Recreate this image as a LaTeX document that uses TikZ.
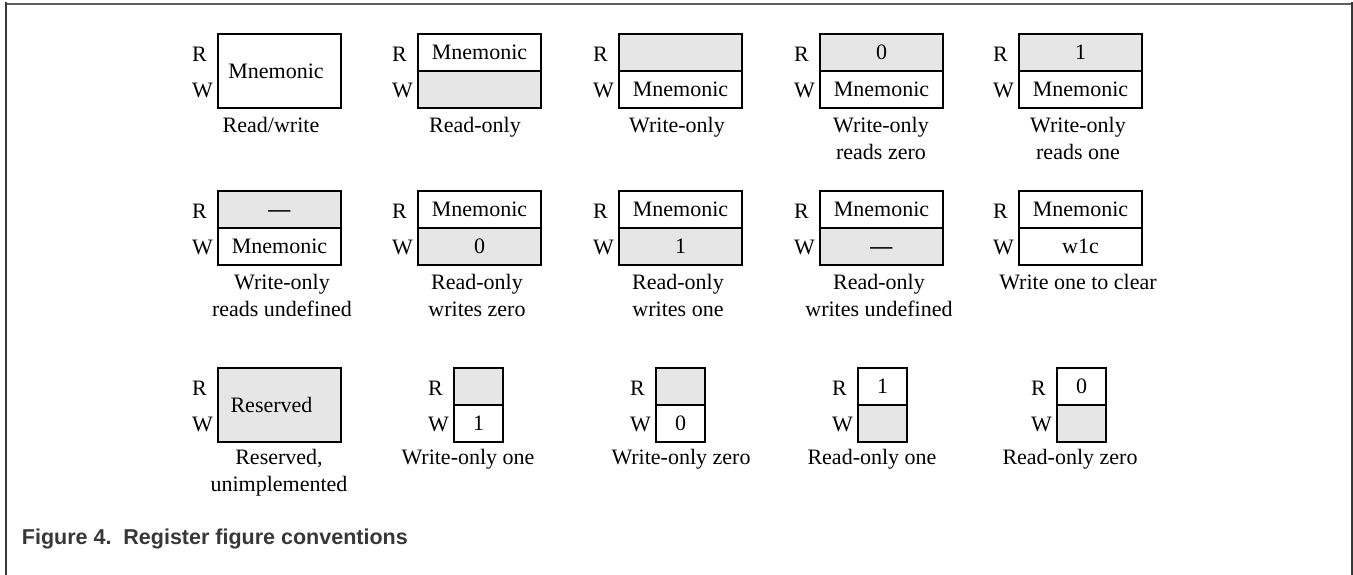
\documentclass[tikz,border=0pt]{standalone}
\usepackage{fontspec}
\setmainfont{Liberation Serif}
\newfontfamily\capfont{Liberation Sans}
\definecolor{shade}{RGB}{230,230,230}
\definecolor{framedark}{RGB}{55,55,55}
\definecolor{frametop}{RGB}{95,95,95}
\definecolor{captext}{RGB}{55,55,55}

\tikzset{
  txt/.style={font=\fontsize{22}{27}\selectfont},
  cell/.style={txt, rectangle, draw=black, line width=1.9pt, inner sep=0pt,
    outer sep=0pt, minimum height=37pt, text height=14.6pt, text depth=0pt},
  wholecell/.style={cell, minimum width=123pt, minimum height=74pt},
  rwlabel/.style={txt, anchor=west, inner sep=0pt},
  caption/.style={txt, anchor=north, inner sep=0pt, align=center},
}

% an undefined field value is printed as a heavy dash
\newcommand\undefdash{\textbf{---}}

% two-cell register field: name, left x, top y, width, upper fill, upper text, lower fill, lower text
\newcommand\regpair[8]{%
  \node[cell, fill=#5, minimum width=#4pt, anchor=north west] (#1u) at (#2,#3) {#6};
  \node[cell, fill=#7, minimum width=#4pt, anchor=north west] (#1l) at (#1u.south west) {#8};
  \node[rwlabel] (#1R) at ([xshift=-26pt,yshift=-20pt]#1u.north west) {R};
  \node[rwlabel] (#1W) at ([xshift=-26pt,yshift=-56pt]#1u.north west) {W};
}
% single-cell register field: name, left x, top y, fill, text, leftward text offset
\newcommand\regwhole[6]{%
  \node[wholecell, fill=#4, anchor=north west] (#1) at (#2,#3) {#5\hspace*{#6pt}};
  \node[rwlabel] (#1R) at ([xshift=-26pt,yshift=-20pt]#1.north west) {R};
  \node[rwlabel] (#1W) at ([xshift=-26pt,yshift=-56pt]#1.north west) {W};
}

\begin{document}
\begin{tikzpicture}[x=1pt,y=-1pt]
\useasboundingbox (0,0) rectangle (1353,575);

% frame
\draw[frametop, line width=2.5pt] (5,3.8) -- (1353,3.8);
\draw[framedark, line width=2.5pt] (6.2,2.5) -- (6.2,575);
\draw[framedark, line width=2pt] (1351.5,2.5) -- (1351.5,575);

% row 1
\regwhole{rw}{218}{34}{white}{Mnemonic}{7}
\regpair{ro}{418}{34}{123}{white}{Mnemonic}{shade}{}
\regpair{wo}{619}{34}{123}{shade}{}{white}{Mnemonic}
\regpair{wrz}{820}{34}{123}{shade}{0}{white}{Mnemonic}
\regpair{wro}{1019}{34}{123}{shade}{1}{white}{Mnemonic}

\node[caption] (crw) at (271,117) {Read/write};
\node[caption] (cro) at (475,117) {Read-only};
\node[caption] (cwo) at (677,117) {Write-only};
\node[caption] (cwrz) at (881,117) {Write-only\\reads zero};
\node[caption] (cwro) at (1078,117) {Write-only\\reads one};

% row 2
\regpair{wru}{218}{191}{123}{shade}{\undefdash}{white}{Mnemonic}
\regpair{rwz}{418}{191}{123}{white}{Mnemonic}{shade}{0}
\regpair{rwo}{619}{191}{123}{white}{Mnemonic}{shade}{1}
\regpair{rwu}{820}{191}{123}{white}{Mnemonic}{shade}{\undefdash}
\regpair{woc}{1019}{191}{123}{white}{Mnemonic}{white}{w1c}

\node[caption] (cwru) at (282,274.5) {Write-only\\reads undefined};
\node[caption] (crwz) at (477,274.5) {Read-only\\writes zero};
\node[caption] (crwo) at (678,274.5) {Read-only\\writes one};
\node[caption] (crwu) at (879,274.5) {Read-only\\writes undefined};
\node[caption] (cwoc) at (1078,274.5) {Write one to clear};

% row 3
\regwhole{res}{218}{368}{shade}{Reserved}{16}
\regpair{wone}{454}{368}{49}{shade}{}{white}{1}
\regpair{wzero}{656}{368}{49}{shade}{}{white}{0}
\regpair{rone}{858}{368}{49}{white}{1}{shade}{}
\regpair{rzero}{1057}{368}{49}{white}{0}{shade}{}

\node[caption] (cres) at (279,449) {Reserved,\\unimplemented};
\node[caption] (cwone) at (468,449) {Write-only one};
\node[caption] (cwzero) at (681,449) {Write-only zero};
\node[caption] (crone) at (872,449) {Read-only one};
\node[caption] (crzero) at (1070,449) {Read-only zero};

% figure title
\node[anchor=base west, inner sep=0pt, text=captext,
  font=\capfont\bfseries\fontsize{21.5}{24}\selectfont] (title) at (21.7,544)
  {Figure 4.\ \ Register figure conventions};
\end{tikzpicture}
\end{document}
